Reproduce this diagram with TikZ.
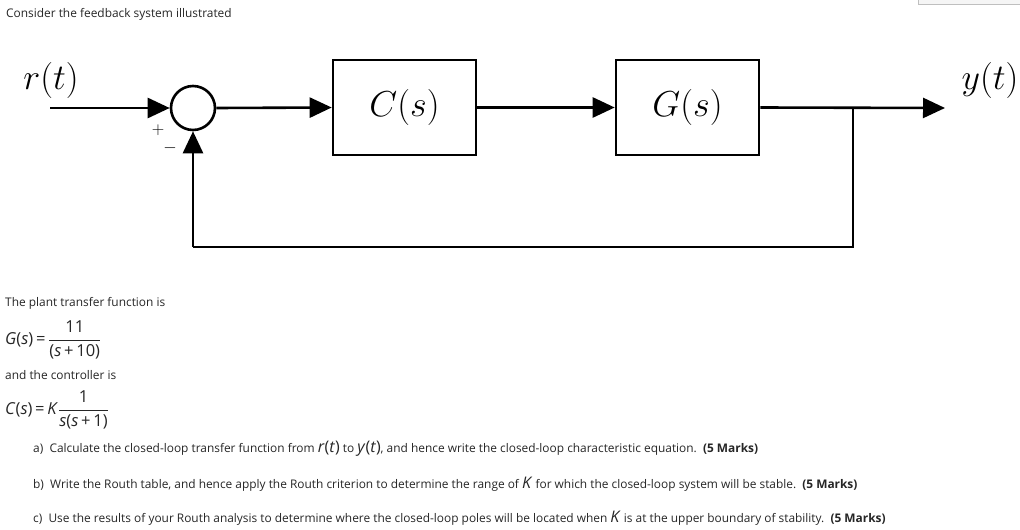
\documentclass[tikz,border=0pt]{standalone}
\usepackage{amsmath}
\usepackage{graphicx}
\usepackage{fontspec}
\setmainfont{Open Sans}
\usetikzlibrary{arrows.meta}
\newcommand{\biglab}[1]{\scalebox{1.45}{$#1$}}
\begin{document}
\begin{tikzpicture}[x=1pt,y=-1pt,
  sig/.style={line width=2.6pt,-{Triangle[length=22pt,width=20pt]}},
  wire/.style={line width=2.6pt},
  blk/.style={draw,line width=2.6pt,minimum width=143pt,minimum height=95pt,inner sep=0pt},
  mlab/.style={font=\fontsize{24.88}{30}\selectfont},
  txt/.style={anchor=west,font=\fontsize{11.9}{14}\selectfont,inner sep=0pt,text=black!85},
  eq/.style={anchor=west,font=\fontsize{16.5}{19}\selectfont,inner sep=0pt,text=black!85}]
\useasboundingbox (0,0) rectangle (1020,530);
\draw[gray!50,fill=gray!8] (918,-2) rectangle (1022,4);
\node[txt] (title) at (6,14) {Consider the feedback system illustrated};
\node[mlab] (r) at (51,80) {\biglab{r(t)}};
\node[mlab] (y) at (990,80) {\biglab{y(t)}};
\coordinate (in) at (50,108);
\node[draw,circle,line width=2.6pt,minimum size=44pt,inner sep=0pt] (sum) at (193,108) {};
\node[blk] (C) at (404.5,107.5) {};
\node[mlab] at (C) {\biglab{C(s)}};
\node[blk] (G) at (687.5,107.5) {};
\node[mlab] at (G) {\biglab{G(s)}};
\coordinate (out) at (945,108);
\coordinate (tap) at (853,108);
\coordinate (fb1) at (853,247);
\coordinate (fb2) at (193,247);
\draw[sig] (in) -- (sum.west);
\draw[sig] (sum.east) -- (C.west);
\draw[sig] (C.east) -- (G.west);
\draw[sig] (G.east) -- (out);
\draw[wire] (tap) -- (fb1) -- (fb2);
\draw[sig] (fb2) -- (sum.south);
\node[font=\fontsize{17.28}{18}\selectfont] (plus) at (158,130) {$+$};
\node[font=\fontsize{17.28}{18}\selectfont] (minus) at (170,148) {$-$};
\node[txt] (t1) at (5,303) {The plant transfer function is};
\node[eq] (gs) at (5,340) {\textit{G}(\textit{s})\,=\,$\dfrac{\text{11}}{\text{(\textit{s}\,+\,10)}}$};
\node[txt] (t2) at (5,375) {and the controller is};
\node[eq] (cs) at (5,410) {\textit{C}(\textit{s})\,=\,\textit{K}$\dfrac{\text{1}}{\text{\textit{s}(\textit{s}\,+\,1)}}$};
\node[txt] (qa) at (33,449) {a)\ \ Calculate the closed-loop transfer function from {\fontsize{16}{16}\selectfont\textit{r}(\textit{t})} to {\fontsize{16}{16}\selectfont\textit{y}(\textit{t})}, and hence write the closed-loop characteristic equation.\ \ \textbf{(5 Marks)}};
\node[txt] (qb) at (33,484) {b)\ \ Write the Routh table, and hence apply the Routh criterion to determine the range of {\fontsize{16}{16}\selectfont\textit{K}} for which the closed-loop system will be stable.\ \ \textbf{(5 Marks)}};
\node[txt] (qc) at (33,518) {c)\ \ Use the results of your Routh analysis to determine where the closed-loop poles will be located when {\fontsize{16}{16}\selectfont\textit{K}} is at the upper boundary of stability.\ \ \textbf{(5 Marks)}};
\end{tikzpicture}
\end{document}
